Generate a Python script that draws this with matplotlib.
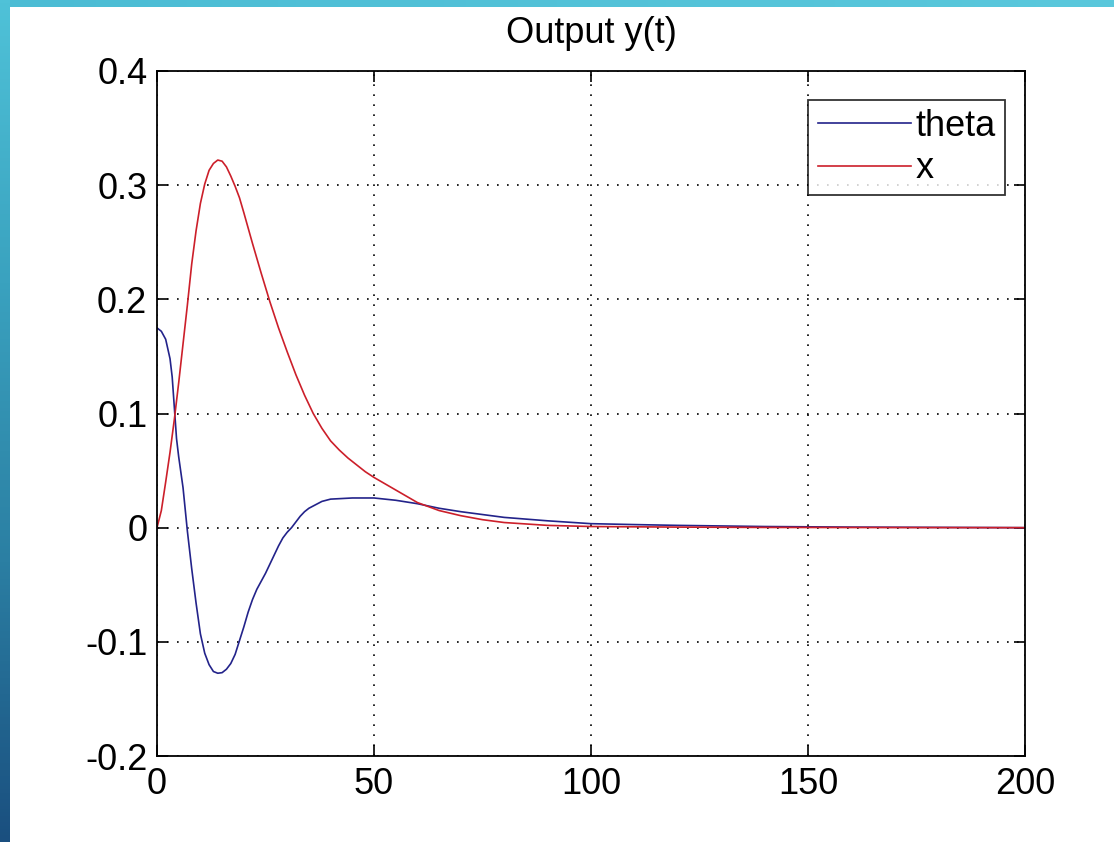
import numpy as np
import matplotlib
matplotlib.use("Agg")
import matplotlib.pyplot as plt
from matplotlib.colors import LinearSegmentedColormap

# ---- data ----
t_x = [0, 1, 2, 3, 4, 5, 6, 7, 8, 9, 10, 11, 12, 13, 14, 15, 16, 17, 18, 19, 20,
       22, 24, 26, 28, 30, 32, 34, 36, 38, 40, 42, 44, 46, 48, 50, 55, 60, 65, 70,
       75, 80, 90, 100, 120, 140, 200]
x_vals = [0.0, 0.015, 0.040, 0.066, 0.095, 0.127, 0.161, 0.195, 0.231, 0.260, 0.284,
          0.301, 0.313, 0.319, 0.322, 0.321, 0.316, 0.308, 0.299, 0.289, 0.276,
          0.249, 0.223, 0.198, 0.175, 0.154, 0.134, 0.116, 0.100, 0.087, 0.076,
          0.068, 0.061, 0.055, 0.049, 0.044, 0.033, 0.022, 0.015, 0.0105,
          0.007, 0.0045, 0.002, 0.001, 0.0005, 0.0002, 0.0]

t_theta = [0, 1, 2, 3, 3.5, 4, 4.5, 5, 6, 7, 8, 9, 10, 11, 12, 13, 14, 15, 16, 17, 18,
           19, 20, 21, 22, 23, 24, 25, 26, 27, 28, 29, 30, 31, 32, 33, 34, 35, 36, 37,
           38, 40, 45, 50, 55, 60, 65, 70, 80, 90, 100, 110, 120, 140, 160, 200]
theta_vals = [0.175, 0.172, 0.165, 0.148, 0.132, 0.105, 0.078, 0.062, 0.035, -0.003,
              -0.036, -0.066, -0.093, -0.110, -0.120, -0.126, -0.1275, -0.127, -0.124,
              -0.119, -0.111, -0.099, -0.087, -0.074, -0.063, -0.054, -0.047, -0.040,
              -0.032, -0.024, -0.016, -0.009, -0.004, 0.000, 0.005, 0.010, 0.014,
              0.017, 0.019, 0.021, 0.023, 0.025, 0.026, 0.026, 0.024, 0.021, 0.017,
              0.014, 0.009, 0.006, 0.0035, 0.0027, 0.002, 0.001, 0.0005, 0.0]

x_ticks = [0, 50, 100, 150, 200]
y_ticks = [-0.2, -0.1, 0, 0.1, 0.2, 0.3, 0.4]
y_ticklabels = ["-0.2", "-0.1", "0", "0.1", "0.2", "0.3", "0.4"]

plt.rcParams['font.family'] = ['Liberation Sans', 'DejaVu Sans']

W, H = 1114, 842
fig = plt.figure(figsize=(W / 100, H / 100), dpi=100)
fig.patch.set_facecolor("white")

# slide decoration: top band and left gradient strip
top_ax = fig.add_axes([0, 1 - 7 / H, 1, 7 / H])
top_cmap = LinearSegmentedColormap.from_list("top", ["#4bbcd4", "#5ac8dc"])
top_ax.imshow(np.linspace(0, 1, 256)[None, :], aspect="auto", cmap=top_cmap)
top_ax.axis("off")

left_ax = fig.add_axes([0, 0, 10 / W, 1])
left_cmap = LinearSegmentedColormap.from_list("left", ["#4fc2d8", "#3aa2bf", "#2b7fa3", "#1a4f7f"])
left_ax.imshow(np.linspace(0, 1, 256)[:, None], aspect="auto", cmap=left_cmap)
left_ax.axis("off")

# main axes
l, r, top, bot = 157, 1025, 71, 756
ax = fig.add_axes([l / W, 1 - bot / H, (r - l) / W, (bot - top) / H])
ax.plot(t_theta, theta_vals, color="#23238a", lw=1.2, label="theta")
ax.plot(t_x, x_vals, color="#cc1f2a", lw=1.2, label="x")

ax.set_xlim(0, 200)
ax.set_ylim(-0.2, 0.4)
ax.set_xticks(x_ticks)
ax.set_yticks(y_ticks)
ax.set_yticklabels(y_ticklabels)
ax.tick_params(direction="in", length=8, width=1.2, labelsize=26, top=True, right=True)
ax.tick_params(axis="x", pad=8)
ax.tick_params(axis="y", pad=7)
ax.grid(True, linestyle=(0, (1, 5)), color="black", lw=1.2)
for s in ax.spines.values():
    s.set_linewidth(1.3)
ax.set_title("Output y(t)", fontsize=26, pad=20)

leg = ax.legend(loc="upper right",
                bbox_to_anchor=((1005 - l) / (r - l), 1 - (100 - top) / (bot - top)),
                borderaxespad=0, fontsize=26, frameon=True, fancybox=False,
                edgecolor="black", handlelength=2.6, handletextpad=0.12,
                borderpad=0.25, labelspacing=0.2)
leg.get_frame().set_linewidth(1.3)

fig.savefig("out.png", dpi=100, facecolor="white")
